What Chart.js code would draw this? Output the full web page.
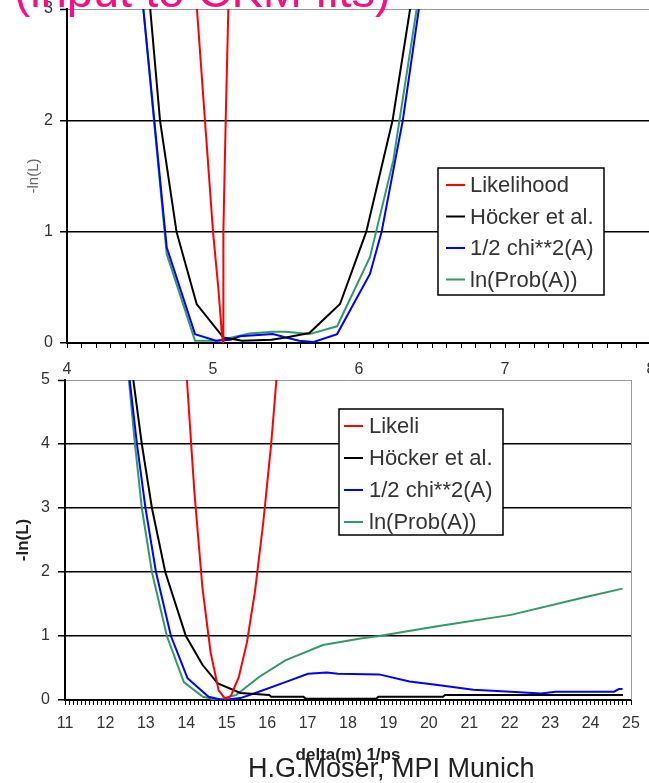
<!DOCTYPE html>
<html>
<head>
<meta charset="utf-8">
<script src="https://cdn.jsdelivr.net/npm/chart.js@4.4.1/dist/chart.umd.min.js"></script>
<style>
  html, body { margin: 0; padding: 0; background: #fff; overflow: hidden; }
  body { width: 649px; height: 783px; position: relative; }
  canvas { position: absolute; left: 0; }
  #topChart { top: -20px; }
  #bottomChart { top: 360px; }
  .txt { position: absolute; white-space: pre; font-family: "Liberation Sans", Arial, sans-serif; line-height: 1; }
  #title { left: -22px; top: -33px; font-size: 47px; color: #ff0d80; }
  #footer { left: 248px; top: 755px; font-size: 27px; color: #222; }
</style>
</head>
<body>
<canvas id="topChart" width="700" height="400"></canvas>
<canvas id="bottomChart" width="649" height="423"></canvas>
<div class="txt" id="title">s (input to CKM fits)</div>
<div class="txt" id="footer">H.G.Moser, MPI Munich</div>
<script>
// top panel: delta(m) 4..8
const likeTopX = [4.86, 4.89, 4.945, 5.0, 5.036, 5.06, 5.07, 5.071, 5.087, 5.105, 5.115]
const likeTopY = [3.5, 3.0, 2.0, 1.0, 0.5, 0.1, 0.0, 1.0, 2.0, 3.0, 3.5]
const hockTopX = [4.55, 4.57, 4.637, 4.75, 4.888, 5.07, 5.2, 5.4, 5.5, 5.66, 5.87, 6.05, 6.23, 6.35, 6.38]
const hockTopY = [3.3, 3.0, 2.0, 1.0, 0.35, 0.05, 0.02, 0.03, 0.05, 0.09, 0.35, 1.0, 2.0, 3.0, 3.3]
const chiTopX = [4.5, 4.523, 4.683, 4.877, 5.02, 5.12, 5.185, 5.41, 5.5, 5.59, 5.69, 5.85, 6.075, 6.155, 6.3, 6.41, 6.44]
const chiTopY = [3.3, 3.0, 0.86, 0.08, 0.02, 0.03, 0.06, 0.08, 0.05, 0.02, 0.01, 0.08, 0.62, 1.0, 2.0, 3.0, 3.3]
const probTopX = [4.5, 4.523, 4.683, 4.877, 5.03, 5.25, 5.41, 5.5, 5.66, 5.85, 6.075, 6.235, 6.395, 6.43]
const probTopY = [3.3, 3.0, 0.8, 0.02, 0.02, 0.085, 0.1, 0.1, 0.08, 0.15, 0.77, 1.64, 3.0, 3.3]

// bottom panel: delta(m) 11..25
const likeX = [13.9, 14.0, 14.2, 14.4, 14.6, 14.8, 14.96, 15.1, 15.3, 15.5, 15.7, 15.9, 16.1, 16.3]
const likeY = [6.3, 5.15, 3.25, 1.75, 0.75, 0.15, 0.02, 0.06, 0.36, 0.9, 1.7, 2.75, 4.0, 5.55]
const hockX = [12.6, 12.69, 12.9, 13.15, 13.48, 13.99, 14.4, 14.78, 15.34, 16.05, 16.1, 16.9, 16.95, 18.7, 18.75, 20.35, 20.4, 24.8]
const hockY = [5.5, 5.0, 4.0, 3.0, 2.0, 1.0, 0.55, 0.26, 0.11, 0.08, 0.05, 0.05, 0.02, 0.02, 0.05, 0.05, 0.08, 0.08]
const chiX = [12.55, 12.6, 12.78, 12.99, 13.25, 13.62, 14.03, 14.55, 14.9, 15.34, 15.71, 16.45, 17.01, 17.47, 17.75, 18.77, 19.52, 20.17, 21.1, 22.03, 22.77, 23.14, 24.58, 24.7, 24.79]
const chiY = [5.4, 5.0, 4.0, 3.0, 2.0, 1.0, 0.34, 0.05, 0.0, 0.03, 0.11, 0.28, 0.41, 0.43, 0.41, 0.4, 0.29, 0.24, 0.16, 0.13, 0.1, 0.13, 0.13, 0.17, 0.17]
const probX = [12.53, 12.58, 12.73, 12.9, 13.15, 13.52, 13.94, 14.41, 14.78, 15.24, 15.8, 16.45, 17.38, 18.31, 18.77, 20.17, 22.03, 23.88, 24.79]
const probY = [5.4, 5.0, 4.0, 3.0, 2.0, 1.0, 0.28, 0.05, 0.0, 0.08, 0.36, 0.62, 0.86, 0.96, 1.0, 1.15, 1.33, 1.61, 1.74]

const topLabels = ['Likelihood', 'Höcker et al.', '1/2 chi**2(A)', 'ln(Prob(A))']
const bottomLabels = ['Likeli', 'Höcker et al.', '1/2 chi**2(A)', 'ln(Prob(A))']
const colors = ['#ff0000', '#000000', '#0000ff', '#339966']

Chart.defaults.font.family = '"Liberation Sans", Arial, sans-serif'
Chart.defaults.devicePixelRatio = 1

function points(xs, ys) {
    return xs.map((x, i) => ({x: x, y: ys[i]}))
}

function makeSets(labels, pairs) {
    return pairs.map((p, i) => ({
        label: labels[i],
        data: points(p[0], p[1]),
        borderColor: colors[i],
        borderWidth: 2,
        pointRadius: 0,
        tension: 0,
        fill: false
    }))
}

// legend with a frame, drawn inside the plot
const boxLegend = {
    id: 'boxLegend',
    afterDraw(chart, args, opts) {
        const ctx = chart.ctx
        ctx.save()
        ctx.fillStyle = '#fff'
        ctx.fillRect(opts.x, opts.y, opts.w, opts.h)
        ctx.strokeStyle = '#000'
        ctx.lineWidth = 1.5
        ctx.strokeRect(opts.x, opts.y, opts.w, opts.h)
        ctx.font = '22px "Liberation Sans", Arial, sans-serif'
        ctx.textBaseline = 'middle'
        chart.data.datasets.forEach((ds, i) => {
            const y = opts.y + opts.first + i * opts.step
            ctx.strokeStyle = ds.borderColor
            ctx.lineWidth = 2
            ctx.beginPath()
            ctx.moveTo(opts.x + opts.lineFrom, y)
            ctx.lineTo(opts.x + opts.lineFrom + 19, y)
            ctx.stroke()
            ctx.fillStyle = '#333'
            ctx.fillText(ds.label, opts.x + opts.textFrom, y + 1)
        })
        ctx.restore()
    }
}

// thin gray right border of the plot frame
const rightFrame = {
    id: 'rightFrame',
    beforeDatasetsDraw(chart, args, opts) {
        if (!opts.show) return
        const a = chart.chartArea
        const ctx = chart.ctx
        ctx.save()
        ctx.strokeStyle = '#999'
        ctx.lineWidth = 1
        ctx.beginPath()
        ctx.moveTo(a.right + 0.5, a.top)
        ctx.lineTo(a.right + 0.5, a.bottom)
        ctx.stroke()
        ctx.restore()
    }
}

function xAxis(min, max, height, pad, title) {
    return {
        type: 'linear',
        min: min,
        max: max,
        afterBuildTicks: axis => {
            const t = []
            for (let i = min * 10; i <= max * 10; i++) t.push({value: i / 10})
            axis.ticks = t
        },
        afterFit: axis => { axis.height = height },
        ticks: {
            autoSkip: false,
            maxRotation: 0,
            padding: pad,
            color: '#333',
            font: {size: 16},
            callback: v => (Math.abs(v - Math.round(v)) < 1e-6 ? String(Math.round(v)) : '')
        },
        grid: {drawOnChartArea: false, drawTicks: true, tickLength: 5, tickColor: '#000', tickWidth: 1},
        border: {color: '#000', width: 2},
        title: title
    }
}

function yAxis(max, width, pad, title) {
    return {
        min: 0,
        max: max,
        afterFit: axis => { axis.width = width },
        ticks: {stepSize: 1, padding: pad, color: '#333', font: {size: 16, lineHeight: 1}},
        grid: {
            color: c => (c.tick && c.tick.value === max ? '#999' : '#000'),
            lineWidth: c => (c.tick && c.tick.value === max ? 1 : 1.5),
            tickColor: '#000',
            tickLength: 7,
            tickWidth: 1.5
        },
        border: {color: '#000', width: 2},
        title: title
    }
}

new Chart('topChart', {
    type: 'line',
    data: {
        datasets: makeSets(topLabels, [
            [likeTopX, likeTopY], [hockTopX, hockTopY], [chiTopX, chiTopY], [probTopX, probTopY]
        ])
    },
    options: {
        responsive: false,
        animation: false,
        layout: {padding: {top: 29, right: 49, bottom: 0, left: 0}},
        plugins: {
            legend: {display: false},
            tooltip: {enabled: false},
            boxLegend: {x: 438, y: 188, w: 166, h: 127, first: 17, step: 31.5, lineFrom: 8, textFrom: 32},
            rightFrame: {show: false}
        },
        scales: {
            x: xAxis(4, 8, 37, 12, {display: false}),
            y: yAxis(3, 67, 7, {display: true, text: '-ln(L)', color: '#666', font: {size: 15}, padding: {top: 25, bottom: 0}})
        }
    },
    plugins: [boxLegend, rightFrame]
})

new Chart('bottomChart', {
    type: 'line',
    data: {
        datasets: makeSets(bottomLabels, [
            [likeX, likeY], [hockX, hockY], [chiX, chiY], [probX, probY]
        ])
    },
    options: {
        responsive: false,
        animation: false,
        layout: {padding: {top: 20, right: 18, bottom: 0, left: 0}},
        plugins: {
            legend: {display: false},
            tooltip: {enabled: false},
            boxLegend: {x: 339, y: 409 - 360, w: 164, h: 126, first: 17, step: 32, lineFrom: 5, textFrom: 30},
            rightFrame: {show: true}
        },
        scales: {
            x: xAxis(11, 25, 83, 9, {display: true, text: 'delta(m) 1/ps', color: '#222', font: {size: 17, weight: 'bold'}, padding: {top: 0, bottom: 17}}),
            y: yAxis(5, 65, 8, {display: true, text: '-ln(L)', color: '#222', font: {size: 17, weight: 'bold'}, padding: {top: 13, bottom: 0}})
        }
    },
    plugins: [boxLegend, rightFrame]
})
</script>
</body>
</html>
